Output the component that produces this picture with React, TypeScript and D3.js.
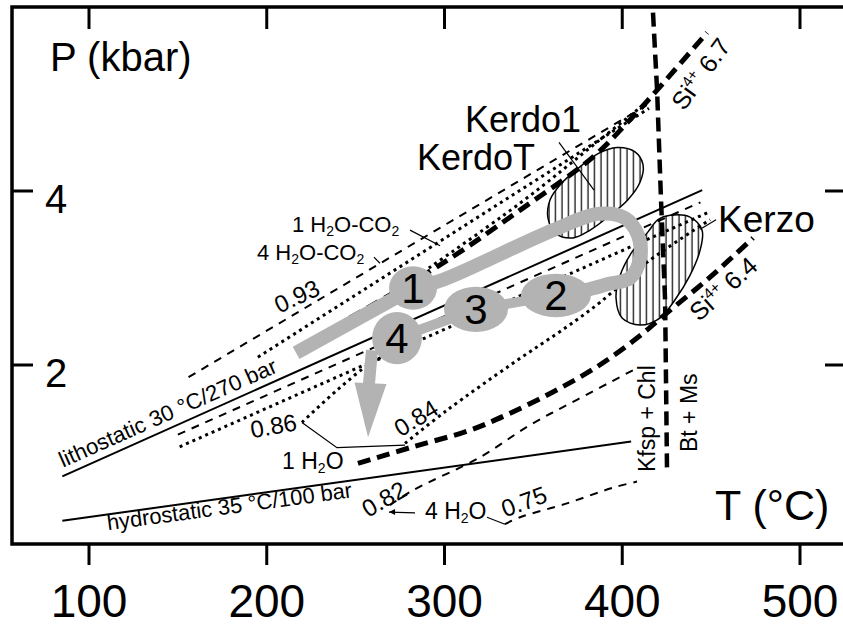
import React from "react";
import * as d3 from "d3";

// axis ticks
const tempTicks = [100, 200, 300, 400, 500];
const pressTicks = [2, 4];

// geotherms [T °C, P kbar]
const lithostatic = [[85, 0.72], [445, 4.01]];
const hydrostatic = [[85, 0.21], [405, 1.12]];

// H2O-CO2 isochores (upper bundle)
const isoMixed4 = [[156, 1.86], [414, 4.99]];
const isoMixed1 = [[195, 2.09], [415, 4.95]];
const isoMixedB = [[275, 2.885], [342.5, 3.86], [387.5, 4.59], [415.6, 5.05]];

// lower bundle, parallel to lithostat
const isoLowDash = [[150, 1.2], [444, 3.87]];
const isoLowDot = [[151, 1.06], [448, 3.75]];

// H2O isochores
const iso086 = [[219.8, 1.34], [239.5, 1.71], [259.2, 2.03], [266.5, 2.09]];
const iso084 = [[277.8, 1.1], [301.4, 1.48], [338.5, 2.02], [368.9, 2.44], [387.5, 2.72], [413.9, 3.18], [449.4, 3.67]];
const iso082 = [[269.3, 0.39], [282.3, 0.56], [320, 0.94], [348.1, 1.31], [374.5, 1.6], [406, 1.94]];
const iso075 = [[334, 0.17], [342.5, 0.25], [368.9, 0.41], [394.8, 0.59], [408.3, 0.66]];

// phengite Si isopleths
const si67 = [[246.8, 2.54], [297.5, 3.15], [342.5, 3.78], [383.5, 4.39], [404.4, 4.82], [419.6, 5.16], [447.7, 5.82]];
const si64 = [[251.3, 0.87], [282.3, 1.06], [314.3, 1.25], [335.2, 1.43], [361, 1.69], [385.8, 1.98], [408.3, 2.31], [425.2, 2.6], [449.4, 3.01], [473.6, 3.46]];

// Kfsp + Chl = Bt + Ms
const reaction = [[417.3, 6.05], [419.6, 5.16], [421.8, 3.9], [424.1, 2.75], [425.2, 0.77]];

// chlorite fields
const kerdoField = [[397, 4.5], [407.2, 4.45], [411.7, 4.3], [410, 4.1], [403.2, 3.9], [393.1, 3.72], [381.9, 3.55], [372.3, 3.46], [362.7, 3.51], [358.2, 3.69], [359.4, 3.9], [365, 4.07], [375.1, 4.26], [386.4, 4.43]];
const kerzoField = [[426.9, 3.72], [438.1, 3.7], [444.9, 3.55], [443.8, 3.32], [438.1, 3.03], [429.7, 2.75], [421.2, 2.54], [410, 2.46], [399.9, 2.54], [396.5, 2.77], [398.8, 3.03], [405.5, 3.3], [414.5, 3.53], [420.1, 3.67]];

// P-T path stages: label, T, P, dT, dP
const stages = [
  { id: "1", T: 282.3, P: 2.885, dT: 13.5, dP: 0.25 },
  { id: "2", T: 362.7, P: 2.8, dT: 19.7, dP: 0.25 },
  { id: "3", T: 317.7, P: 2.64, dT: 18, dP: 0.26 },
  { id: "4", T: 273.3, P: 2.31, dT: 14, dP: 0.3 },
];
const pathPrograde = [[216.5, 2.14], [282.3, 2.885]];
const pathLoop = [[282.3, 2.885], [299.2, 2.98], [361, 3.55], [387.5, 3.74], [401.5, 3.69], [408.9, 3.49], [410, 3.23], [404.4, 3.0], [392, 2.93], [379.1, 2.86], [362.7, 2.8]];
const pathRetro = [[362.7, 2.8], [317.7, 2.64], [273.3, 2.31]];
const pathArrow = [[259.2, 2.17], [257.0, 1.17]];

const W = 843;
const H = 626;
const FONT = "'Liberation Sans', Arial, Helvetica, sans-serif";
const GRAY = "#b3b3b3";

export default function App() {
  const x = d3.scaleLinear().domain([100, 500]).range([89, 800]);
  const y = d3.scaleLinear().domain([2, 4]).range([365, 191]);
  const line = d3.line<number[]>().x((d) => x(d[0])).y((d) => y(d[1]));
  const curve = d3.line<number[]>().x((d) => x(d[0])).y((d) => y(d[1])).curve(d3.curveCatmullRom);
  const closed = d3.line<number[]>().x((d) => x(d[0])).y((d) => y(d[1])).curve(d3.curveCatmullRomClosed);

  const frame = { l: 12, t: 7, r: 847, b: 544 };

  const thin = { fill: "none", stroke: "#000", strokeWidth: 2, strokeDasharray: "8 7" };
  const dot = { fill: "none", stroke: "#000", strokeWidth: 3, strokeDasharray: "3 4" };
  const thick = { fill: "none", stroke: "#000", strokeWidth: 5, strokeDasharray: "13 7" };
  const solid = { fill: "none", stroke: "#000", strokeWidth: 2 };
  const leader = { fill: "none", stroke: "#000", strokeWidth: 1.2 };

  const at = (T: number, P: number, rot = 0) => `translate(${x(T)},${y(P)}) rotate(${rot})`;

  // arrow head of the retrograde path
  const [a0, a1] = pathArrow;
  const tip = [x(a1[0]), y(a1[1])];
  const base = [x(a0[0]), y(a0[1])];
  const ang = Math.atan2(tip[1] - base[1], tip[0] - base[0]);
  const headLen = 54, headW = 16;
  const hb = [tip[0] - headLen * Math.cos(ang), tip[1] - headLen * Math.sin(ang)];
  const head = [
    [hb[0] + headW * Math.sin(ang), hb[1] - headW * Math.cos(ang)],
    tip,
    [hb[0] - headW * Math.sin(ang), hb[1] + headW * Math.cos(ang)],
  ];

  const sub = (t: string) => (
    <tspan fontSize={14} dy={4}>{t}</tspan>
  );

  return (
    <svg width={W} height={H} style={{ position: "absolute", left: 0, top: 0, background: "#fff" }} fontFamily={FONT}>
      <defs>
        <pattern id="hatch" patternUnits="userSpaceOnUse" width={6.5} height={10}>
          <line x1={3} y1={0} x2={3} y2={10} stroke="#000" strokeWidth={1.2} />
        </pattern>
      </defs>
      <rect width={W} height={H} fill="#fff" />

      {/* frame and ticks */}
      <rect x={frame.l} y={frame.t} width={frame.r - frame.l} height={frame.b - frame.t} fill="none" stroke="#000" strokeWidth={3.5} />
      {tempTicks.map((t) => (
        <g key={"tx" + t}>
          <line x1={x(t)} x2={x(t)} y1={frame.t} y2={frame.t + 22} stroke="#000" strokeWidth={3} />
          <line x1={x(t)} x2={x(t)} y1={frame.b} y2={frame.b + 21} stroke="#000" strokeWidth={3} />
          <text x={x(t)} y={617} fontSize={46} textAnchor="middle">{t}</text>
        </g>
      ))}
      {pressTicks.map((p) => (
        <g key={"py" + p}>
          <line x1={frame.l} x2={frame.l + 21} y1={y(p)} y2={y(p)} stroke="#000" strokeWidth={3} />
          <line x1={frame.r - 22} x2={frame.r} y1={y(p)} y2={y(p)} stroke="#000" strokeWidth={3} />
          <text x={45} y={y(p) + 22} fontSize={40}>{p}</text>
        </g>
      ))}
      <text x={50} y={71} fontSize={40}>P (kbar)</text>
      <text x={715} y={520} fontSize={43}>T (°C)</text>

      {/* hatched fields */}
      <path d={closed(kerdoField) || ""} fill="url(#hatch)" stroke="#000" strokeWidth={1.5} />
      <path d={closed(kerzoField) || ""} fill="url(#hatch)" stroke="#000" strokeWidth={1.5} />

      {/* geotherms */}
      <path d={line(lithostatic) || ""} {...solid} />
      <path d={line(hydrostatic) || ""} {...solid} />

      {/* isochores */}
      <path d={line(isoMixed4) || ""} {...thin} />
      <path d={line(isoMixed1) || ""} {...dot} />
      <path d={curve(isoMixedB) || ""} {...dot} />
      <path d={line(isoLowDash) || ""} {...thin} />
      <path d={line(isoLowDot) || ""} {...dot} />
      <path d={curve(iso086) || ""} {...dot} />
      <path d={curve(iso084) || ""} {...dot} />
      <path d={curve(iso082) || ""} {...thin} />
      <path d={curve(iso075) || ""} {...thin} />

      {/* Si isopleths and reaction */}
      <path d={curve(si67) || ""} {...thick} />
      <path d={curve(si64) || ""} {...thick} />
      <path d={line(reaction) || ""} {...thick} strokeWidth={4.5} strokeDasharray="14 7" />

      {/* P-T path */}
      <path d={line(pathPrograde) || ""} fill="none" stroke={GRAY} strokeWidth={14} />
      <path d={curve(pathLoop) || ""} fill="none" stroke={GRAY} strokeWidth={14} />
      <path d={line(pathRetro) || ""} fill="none" stroke={GRAY} strokeWidth={10} />
      <path d={line([a0, [a1[0], a1[1] + 0.5]]) || ""} fill="none" stroke={GRAY} strokeWidth={12} />
      <polygon points={head.map((p) => p.join(",")).join(" ")} fill={GRAY} />
      {stages.map((s) => (
        <g key={s.id}>
          <ellipse cx={x(s.T)} cy={y(s.P)} rx={x(s.T + s.dT) - x(s.T)} ry={y(s.P - s.dP) - y(s.P)} fill={GRAY} />
          <text x={x(s.T)} y={y(s.P) + 15} fontSize={42} textAnchor="middle">{s.id}</text>
        </g>
      ))}

      {/* leaders */}
      <path d={line([[280.6, 3.55], [297.5, 3.37]]) || ""} {...leader} />
      <path d={line([[260.3, 3.24], [263.7, 3.17]]) || ""} {...leader} />
      <path d={line([[364.4, 4.56], [384.1, 4.01]]) || ""} {...leader} />
      <path d={line([[452.8, 3.67], [443.8, 3.56]]) || ""} {...leader} />
      <path d={line([[219.8, 1.34], [239.5, 1.05], [277.8, 1.08]]) || ""} {...leader} />
      <path d={line([[283.4, 0.3], [268.8, 0.31]]) || ""} {...leader} />
      <path d={`M${x(268.8)},${y(0.31)} l6,-3 l0,6 z`} fill="#000" />
      <path d={line([[323.9, 0.25], [334.0, 0.17]]) || ""} {...leader} />

      {/* labels */}
      <text transform={at(311.5, 4.68)} fontSize={36}>Kerdo1</text>
      <text transform={at(284.5, 4.24)} fontSize={36}>KerdoT</text>
      <text transform={at(453.9, 3.53)} fontSize={37}>Kerzo</text>

      <text transform={at(214.2, 3.53)} fontSize={22}>
        1 H{sub("2")}<tspan dy={-4}>O-CO</tspan>{sub("2")}
      </text>
      <text transform={at(194.5, 3.21)} fontSize={22}>
        4 H{sub("2")}<tspan dy={-4}>O-CO</tspan>{sub("2")}
      </text>
      <text transform={at(208.6, 0.8)} fontSize={23}>
        1 H{sub("2")}<tspan dy={-4}>O</tspan>
      </text>
      <text transform={at(289.0, 0.23)} fontSize={23}>
        4 H{sub("2")}<tspan dy={-4}>O</tspan>
      </text>

      <text transform={at(217.0, 2.79, -25)} fontSize={24} textAnchor="middle" dy="0.35em">0.93</text>
      <text transform={at(203.8, 1.3, -10)} fontSize={24} textAnchor="middle" dy="0.35em">0.86</text>
      <text transform={at(284.0, 1.39, -32)} fontSize={24} textAnchor="middle" dy="0.35em">0.84</text>
      <text transform={at(266.0, 0.46, -30)} fontSize={24} textAnchor="middle" dy="0.35em">0.82</text>
      <text transform={at(344.7, 0.43, -20)} fontSize={24} textAnchor="middle" dy="0.35em">0.75</text>

      <text transform={at(85.4, 0.82, -24)} fontSize={22} textLength={236} lengthAdjust="spacingAndGlyphs">lithostatic 30 °C/270 bar</text>
      <text transform={at(110.7, 0.1, -7.7)} fontSize={22} textLength={247} lengthAdjust="spacingAndGlyphs">hydrostatic 35 °C/100 bar</text>

      <text transform={at(434.7, 4.91, -54)} fontSize={25}>
        Si<tspan fontSize={15} dy={-10}>4+</tspan><tspan dy={10}>{" 6.7"}</tspan>
      </text>
      <text transform={at(443.2, 2.49, -42)} fontSize={25}>
        Si<tspan fontSize={15} dy={-10}>4+</tspan><tspan dy={10}>{" 6.4"}</tspan>
      </text>
      <text transform={at(418.4, 0.77, -90)} fontSize={23}>Kfsp + Chl</text>
      <text transform={at(442.1, 1.0, -90)} fontSize={23}>Bt + Ms</text>
    </svg>
  );
}
